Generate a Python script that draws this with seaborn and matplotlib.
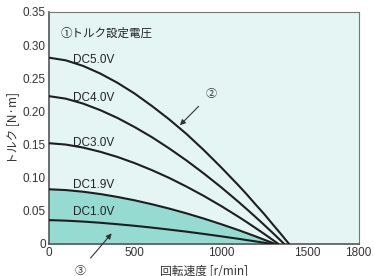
import matplotlib
matplotlib.use("Agg")
import matplotlib.pyplot as plt
import seaborn as sns
import pandas as pd
from matplotlib import font_manager

# ---- data ----
speed_50 = [0, 100, 200, 300, 400, 500, 600, 700, 800, 900, 1000, 1100, 1150, 1200, 1250, 1300, 1350, 1396]
torque_50 = [0.281, 0.2769, 0.2685, 0.2570, 0.243, 0.2267, 0.208, 0.1879, 0.166, 0.1418, 0.116,
             0.089, 0.0749, 0.060, 0.0456, 0.030, 0.0146, 0.0]

speed_40 = [0, 100, 200, 300, 400, 500, 600, 700, 800, 900, 1000, 1100, 1150, 1200, 1250, 1300, 1330, 1368]
torque_40 = [0.223, 0.2191, 0.2117, 0.2018, 0.190, 0.1762, 0.161, 0.1441, 0.126, 0.1065, 0.0859,
             0.064, 0.0526, 0.041, 0.0291, 0.017, 0.0095, 0.0]

speed_30 = [0, 100, 200, 300, 400, 500, 600, 700, 800, 900, 1000, 1100, 1150, 1200, 1250, 1280, 1310, 1334]
torque_30 = [0.152, 0.1499, 0.1454, 0.1390, 0.1312, 0.1219, 0.1113, 0.0996, 0.0866, 0.0726, 0.0575,
             0.0414, 0.0330, 0.0243, 0.0155, 0.010, 0.0045, 0.0]

speed_19 = [0, 100, 200, 300, 400, 500, 600, 700, 800, 900, 1000, 1100, 1150, 1200, 1260, 1290, 1315]
torque_19 = [0.0825, 0.0813, 0.0788, 0.0753, 0.0709, 0.0658, 0.0599, 0.0534, 0.0462, 0.0384, 0.0300,
             0.0211, 0.0164, 0.0116, 0.0056, 0.0026, 0.0]

speed_10 = [0, 100, 200, 300, 400, 500, 600, 700, 800, 900, 1000, 1100, 1150, 1200, 1250, 1297]
torque_10 = [0.036, 0.0352, 0.0338, 0.0320, 0.0298, 0.0274, 0.0247, 0.0217, 0.0186, 0.0152, 0.0116,
             0.0079, 0.0059, 0.0040, 0.0019, 0.0]

series_labels = ["DC5.0V", "DC4.0V", "DC3.0V", "DC1.9V", "DC1.0V"]
label_y = [0.2775, 0.220, 0.152, 0.089, 0.0487]

x_ticks = [0, 500, 1000, 1500, 1800]
y_ticks = [0, 0.05, 0.10, 0.15, 0.20, 0.25, 0.30, 0.35]
y_ticklabels = ["0", "0.05", "0.10", "0.15", "0.20", "0.25", "0.30", "0.35"]

title_text = "①トルク設定電圧"
xlabel = "回転速度 [r/min]"
ylabel = "トルク [N·m]"
mark2 = "②"
mark3 = "③"

# ---- styling ----
sns.set_theme(style="white")
names = {f.name for f in font_manager.fontManager.ttflist}
latin = "Liberation Sans Narrow" if "Liberation Sans Narrow" in names else "Liberation Sans"
cjk = "Noto Sans CJK JP"
plt.rcParams["font.family"] = [latin, cjk, "DejaVu Sans"]

fig = plt.figure(figsize=(3.74, 2.76), dpi=100)
ax = fig.add_axes([0.130, 0.116, 0.829, 0.841])
ax.set_facecolor("#e4f5f3")

frames = []
for lab, xs, ys in zip(series_labels,
                       [speed_50, speed_40, speed_30, speed_19, speed_10],
                       [torque_50, torque_40, torque_30, torque_19, torque_10]):
    frames.append(pd.DataFrame({"speed": xs, "torque": ys, "series": lab}))
df = pd.concat(frames, ignore_index=True)

# shaded region under DC1.9V
ax.fill_between(speed_19, torque_19, 0, color="#95dbd1", zorder=1, linewidth=0)

sns.lineplot(data=df, x="speed", y="torque", units="series", estimator=None,
             color="#1e1e1e", linewidth=1.5, ax=ax, zorder=3, legend=False)

for lab, yv in zip(series_labels, label_y):
    ax.text(143, yv, lab, fontsize=8.5, color="#222222", va="center", ha="left",
            family=[latin, "DejaVu Sans"])

ax.text(70, 0.318, title_text, fontsize=8.3, color="#222222", va="center", ha="left",
        family=[cjk, "DejaVu Sans"])

# annotations
ax.annotate(mark2, xy=(762, 0.179), xytext=(941, 0.226),
            fontsize=8, color="#333333", ha="center", va="center",
            family=[cjk, "DejaVu Sans"],
            arrowprops=dict(arrowstyle="-|>", color="#333333", lw=0.8,
                            mutation_scale=8, shrinkA=4, shrinkB=0))
ax.annotate(mark3, xy=(366, 0.016), xytext=(182, -0.040),
            fontsize=8, color="#333333", ha="center", va="center",
            family=[cjk, "DejaVu Sans"], annotation_clip=False,
            arrowprops=dict(arrowstyle="-|>", color="#333333", lw=0.8,
                            mutation_scale=8, shrinkA=4, shrinkB=0))

ax.set_xlim(0, 1800)
ax.set_ylim(0, 0.35)
ax.set_xticks(x_ticks)
ax.set_xticklabels([str(t) for t in x_ticks])
ax.set_yticks(y_ticks)
ax.set_yticklabels(y_ticklabels)
ax.tick_params(axis="both", length=0, labelsize=8.5, labelcolor="#333333", pad=2)

ax.set_xlabel(xlabel, fontsize=8.5, color="#333333", labelpad=4,
              family=[cjk, "DejaVu Sans"])
ax.set_ylabel(ylabel, fontsize=8.5, color="#333333", labelpad=3,
              family=[cjk, "DejaVu Sans"])

for side in ["top", "right"]:
    ax.spines[side].set_color("#777777")
    ax.spines[side].set_linewidth(0.8)
for side in ["left", "bottom"]:
    ax.spines[side].set_color("#555555")
    ax.spines[side].set_linewidth(1.2)

fig.savefig("out.png", dpi=100, facecolor="white")
